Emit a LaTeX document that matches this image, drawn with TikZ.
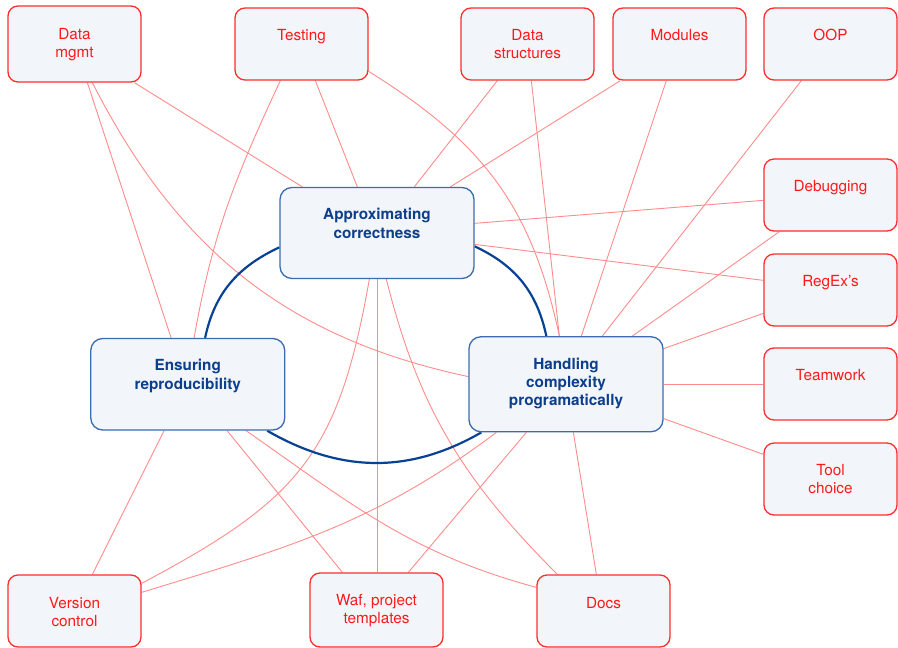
\documentclass[tikz,border=0pt]{standalone}
\usepackage{fontspec}
\setmainfont{TeX Gyre Heros}
\usetikzlibrary{backgrounds}
\definecolor{boxfill}{RGB}{242,245,250}
\definecolor{redtxt}{RGB}{255,25,25}
\definecolor{redborder}{RGB}{255,45,45}
\definecolor{redline}{RGB}{255,140,140}
\definecolor{bluetxt}{RGB}{12,62,140}
\definecolor{blueborder}{RGB}{60,108,175}
\definecolor{bluearc}{RGB}{8,66,148}
\tikzset{
  rbox/.style={draw=redborder, fill=boxfill, line width=1.3pt, rounded corners=10pt,
    minimum width=133pt, minimum height=72pt, inner sep=0pt},
  bbox/.style={draw=blueborder, fill=boxfill, line width=1.3pt, rounded corners=12pt,
    minimum width=194pt, minimum height=91pt, inner sep=0pt},
  rtext/.style={anchor=north, inner sep=0pt, align=center, text=redtxt,
    font=\fontsize{15.3}{18}\selectfont},
  btext/.style={anchor=north, inner sep=0pt, align=center, text=bluetxt,
    font=\bfseries\fontsize{15.3}{18.3}\selectfont},
  link/.style={draw=redline, line width=0.9pt},
  ring/.style={draw=bluearc, line width=2.2pt}
}
\begin{document}
\begin{tikzpicture}[x=1pt,y=-1pt]
\useasboundingbox (0,0) rectangle (898,648);
% red boxes
\node[rbox, minimum height=76pt] (dm) at (74.5,44) {};
\node[rbox] (test) at (301.5,44) {};
\node[rbox] (ds) at (527.5,44) {};
\node[rbox] (mod) at (679.5,44) {};
\node[rbox] (oop) at (830.5,44) {};
\node[rbox] (dbg) at (830.5,195) {};
\node[rbox] (rgx) at (830.5,290) {};
\node[rbox] (team) at (830.5,384) {};
\node[rbox] (tool) at (830.5,479) {};
\node[rbox] (vc) at (74.5,611) {};
\node[rbox, minimum height=74pt] (waf) at (376.5,610) {};
\node[rbox] (docs) at (603.5,611) {};
% blue boxes
\node[bbox] (ac) at (377,233) {};
\node[bbox, minimum height=91.5pt] (er) at (187.75,384.25) {};
\node[bbox, minimum height=95pt] (hc) at (566,384.25) {};
% texts
\node[rtext] (dmT) at ([yshift=-22.5pt]dm.north) {Data\\mgmt};
\node[rtext] (testT) at ([yshift=-22pt]test.north) {Testing};
\node[rtext] (dsT) at ([yshift=-22pt]ds.north) {Data\\structures};
\node[rtext] (modT) at ([yshift=-22pt]mod.north) {Modules};
\node[rtext] (oopT) at ([yshift=-21.5pt]oop.north) {OOP};
\node[rtext] (dbgT) at ([yshift=-22pt]dbg.north) {Debugging};
\node[rtext] (rgxT) at ([yshift=-22pt]rgx.north) {RegEx’s};
\node[rtext] (teamT) at ([yshift=-22pt]team.north) {Teamwork};
\node[rtext] (toolT) at ([yshift=-21.5pt]tool.north) {Tool\\choice};
\node[rtext] (vcT) at ([yshift=-22.5pt]vc.north) {Version\\control};
\node[rtext] (wafT) at ([yshift=-22pt]waf.north) {Waf, project\\templates};
\node[rtext] (docsT) at ([yshift=-22.5pt]docs.north) {Docs};
\node[btext] (acT) at ([yshift=-21.5pt]ac.north) {Approximating\\correctness};
\node[btext] (erT) at ([yshift=-21.5pt]er.north) {Ensuring\\reproducibility};
\node[btext] (hcT) at ([yshift=-21.5pt]hc.north) {Handling\\complexity\\programatically};
\begin{scope}[on background layer]
\fill[white] (0,0) rectangle (898,648);
\draw[link] ([xshift=127pt]dm.south west) -- ([xshift=23pt]ac.north west);
\draw[link] ([xshift=80pt]dm.south west) -- ([xshift=81pt]er.north west);
\draw[link] ([xshift=85pt]dm.south west) to[out=-63,in=168] ([yshift=-40.5pt]hc.north west);
\draw[link] ([xshift=46pt]test.south west) to[out=245,in=80] ([xshift=104pt]er.north west);
\draw[link] ([xshift=81pt]test.south west) -- ([xshift=78pt]ac.north west);
\draw[link] ([yshift=-64pt]test.north east) to[out=-32,in=102,looseness=1.05] ([xshift=91pt]hc.north west);
\draw[link] ([xshift=37pt]ds.south west) -- ([xshift=135pt]ac.north west);
\draw[link] ([xshift=71pt]ds.south west) -- ([xshift=91pt]hc.north west);
\draw[link] ([xshift=8pt]mod.south west) -- ([xshift=171pt]ac.north west);
\draw[link] ([xshift=54pt]mod.south west) -- ([xshift=113pt]hc.north west);
\draw[link] ([xshift=38pt]oop.south west) -- ([xshift=134pt]hc.north west);
\draw[link] ([yshift=-42pt]dbg.north west) -- ([yshift=-36.5pt]ac.north east);
\draw[link] ([xshift=16pt]dbg.south west) -- ([xshift=164pt]hc.north west);
\draw[link] ([yshift=-27pt]rgx.north west) -- ([yshift=-57.5pt]ac.north east);
\draw[link] ([yshift=-60pt]rgx.north west) -- ([yshift=-12.5pt]hc.north east);
\draw[link] (team.west) -- (team.west -| hc.east);
\draw[link] ([yshift=-12pt]tool.north west) -- ([yshift=-82.5pt]hc.north east);
\draw[link] ([xshift=85pt]vc.north west) -- ([xshift=74pt]er.south west);
\draw[link] ([yshift=-9pt]vc.north east) to[out=28,in=-100,looseness=1.2] ([xshift=90pt]ac.south west);
\draw[link] ([yshift=-18pt]vc.north east) to[out=17,in=217] ([xshift=28pt]hc.south west);
\draw[link] ([xshift=33pt]waf.north west) -- ([xshift=137pt]er.south west);
\draw[link] (ac.south) -- (ac.south |- waf.north);
\draw[link] ([xshift=99pt]waf.north west) -- ([xshift=58pt]hc.south west);
\draw[link] ([xshift=60pt]docs.north west) -- ([xshift=105pt]hc.south west);
\draw[link] ([xshift=156pt]er.south west) to[out=-35,in=165] ([yshift=-13pt]docs.north west);
\draw[link] ([xshift=107pt]ac.south west) to[out=-76,in=135] ([xshift=21pt]docs.north west);
% blue ring
\draw[ring] ([yshift=-60.5pt]ac.north west) to[out=205,in=78] ([xshift=115pt]er.north west);
\draw[ring] ([yshift=-59.5pt]ac.north east) to[out=-25,in=102] ([xshift=78pt]hc.north west);
\draw[ring] ([xshift=177pt]er.south west) to[out=-30,in=210] ([xshift=13pt]hc.south west);
\end{scope}
\end{tikzpicture}
\end{document}
